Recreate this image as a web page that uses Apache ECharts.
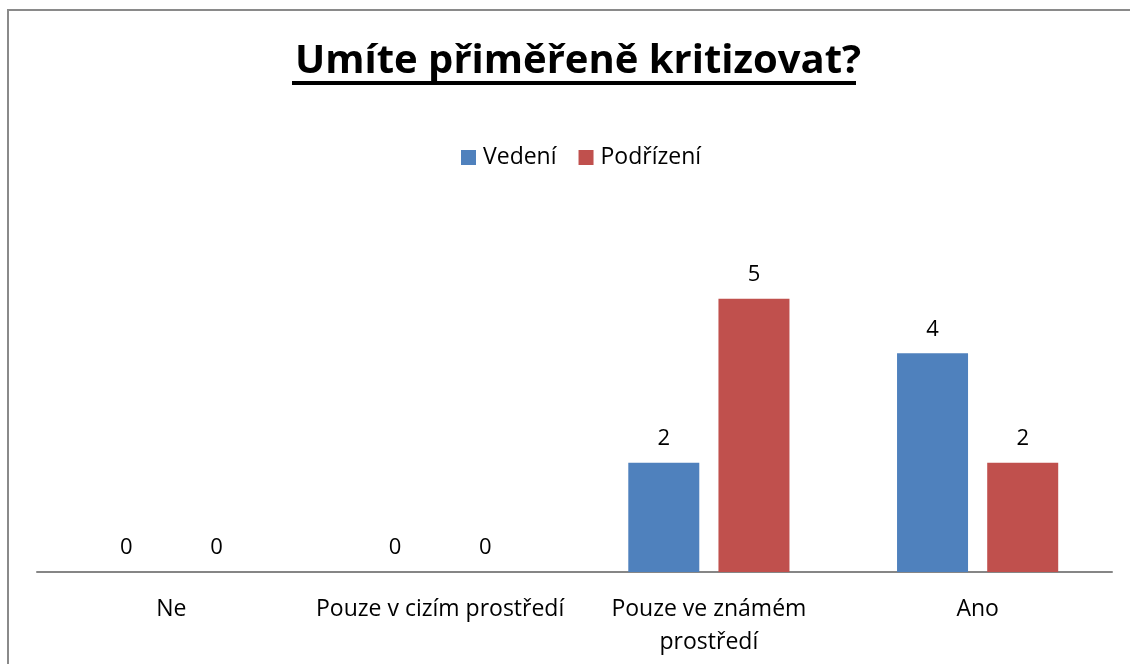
<!DOCTYPE html>
<html lang="cs">
<head>
<meta charset="UTF-8">
<title>Umíte přiměřeně kritizovat?</title>
<script src="https://cdn.jsdelivr.net/npm/echarts@6/dist/echarts.min.js"></script>
<style>
  html, body { margin: 0; padding: 0; background: #fff; }
  #main { width: 1130px; height: 664px; }
</style>
</head>
<body>
<div id="main"></div>
<script>
// data
var categories = ['Ne', 'Pouze v cizím prostředí', 'Pouze ve známém prostředí', 'Ano'];
var vedeni = [0, 0, 2, 4];
var podrizeni = [0, 0, 5, 2];
var seriesNames = ['Vedení', 'Podřízení'];

var font = '"Open Sans", "Noto Sans", sans-serif';
var myChart = echarts.init(document.getElementById('main'));

var label = {
    show: true,
    position: 'top',
    distance: 13,
    color: '#000',
    fontSize: 22,
    fontFamily: font
};

myChart.setOption({
    animation: false,
    title: {
        text: 'Umíte přiměřeně kritizovat?',
        left: 290,
        top: 37,
        textStyle: { fontSize: 40, fontWeight: 'bold', color: '#000', fontFamily: font }
    },
    legend: {
        data: seriesNames,
        top: 141,
        left: 456,
        itemWidth: 15,
        itemHeight: 15,
        itemGap: 22,
        icon: 'rect',
        textStyle: { fontSize: 23, color: '#000', fontFamily: font, padding: [0, 0, 0, 2] }
    },
    grid: { left: 37, right: 18, top: 244, bottom: 92 },
    xAxis: {
        type: 'category',
        data: categories,
        axisLine: { lineStyle: { color: '#868686', width: 2 } },
        axisTick: { show: false },
        axisLabel: {
            interval: 0,
            color: '#000', fontSize: 23, fontFamily: font, margin: 21, lineHeight: 33,
            // only the long label wraps in the original
            formatter: function (v) {
                return v === 'Pouze ve známém prostředí' ? 'Pouze ve známém\nprostředí' : v;
            }
        }
    },
    yAxis: {
        type: 'value', min: 0, max: 6, interval: 1,
        show: false,
        splitLine: { show: false }
    },
    graphic: [
        // frame
        { type: 'polyline', silent: true,
          shape: { points: [[8, 700], [8, 10], [1140, 10]] },
          style: { stroke: '#8a8a8a', lineWidth: 2, fill: null } },
        // title underline
        { type: 'rect', silent: true,
          shape: { x: 292, y: 81, width: 564, height: 4 },
          style: { fill: '#000' } }
    ],
    series: [
        { name: seriesNames[0], type: 'bar', data: vedeni, barWidth: 71, barGap: '27%',
          itemStyle: { color: '#4F81BD' }, label: label },
        { name: seriesNames[1], type: 'bar', data: podrizeni, barWidth: 71, barGap: '27%',
          itemStyle: { color: '#C0504D' }, label: label }
    ]
});
</script>
</body>
</html>
